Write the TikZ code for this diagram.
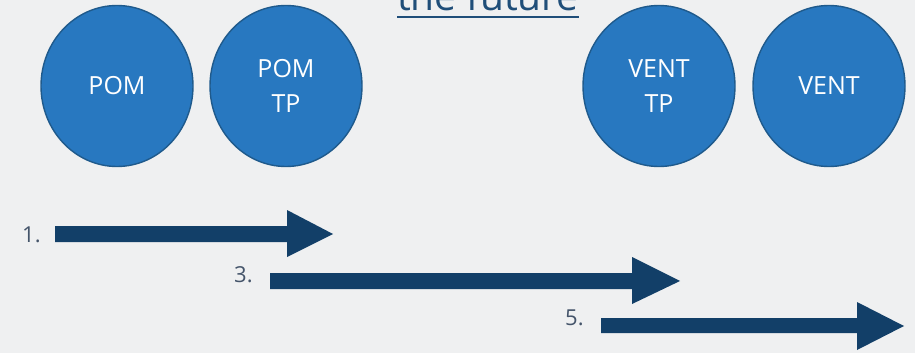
\documentclass[tikz,border=0pt]{standalone}
\usepackage{fontspec}
\setmainfont{Open Sans}
\usetikzlibrary{shapes.geometric}
\definecolor{bgc}{HTML}{EFF0F1}
\definecolor{circfill}{HTML}{2878C0}
\definecolor{circline}{HTML}{1F5A8C}
\definecolor{arrowc}{HTML}{123F68}
\definecolor{titlec}{HTML}{1F4E79}
\definecolor{labelc}{HTML}{44546A}
\begin{document}
\begin{tikzpicture}[x=1pt,y=-1pt,
  circ/.style={ellipse, draw=circline, line width=1.4pt, fill=circfill,
    minimum width=152pt, minimum height=161pt, inner sep=0pt,
    text=white, align=center, font=\fontsize{25}{35}\selectfont},
  blockarrow/.style={fill=arrowc},
  numlabel/.style={anchor=base west, inner sep=0pt, text=labelc, font=\fontsize{22}{22}\selectfont}]
\useasboundingbox (0,0) rectangle (915,353);
\clip (0,0) rectangle (915,353);
\fill[bgc] (0,0) rectangle (915,353);
% title
\node[anchor=base, inner sep=0pt, text=titlec, font=\fontsize{39}{39}\selectfont] (title) at (488,11) {the future};
\draw[titlec, line width=1.6pt] ([yshift=-6pt]title.base west) -- ([yshift=-6pt]title.base east);
% circles
\node[circ] (pom) at (117,86) {POM};
\node[circ] (pomtp) at (286,86) {POM\\TP};
\node[circ] (venttp) at (659,86) {VENT\\TP};
\node[circ] (vent) at (829,86) {VENT};
% arrows
\fill[blockarrow] (55,226) -- (287,226) -- (287,210) -- (333,234) -- (287,257) -- (287,242) -- (55,242) -- cycle;
\fill[blockarrow] (270,273) -- (632,273) -- (632,257) -- (680,281) -- (632,304) -- (632,289) -- (270,289) -- cycle;
\fill[blockarrow] (601,318) -- (857,318) -- (857,302) -- (904,326) -- (857,350) -- (857,333) -- (601,333) -- cycle;
% labels
\node[numlabel] (l1) at (22,242) {1.};
\node[numlabel] (l3) at (234,282) {3.};
\node[numlabel] (l5) at (565,325) {5.};
\end{tikzpicture}
\end{document}
